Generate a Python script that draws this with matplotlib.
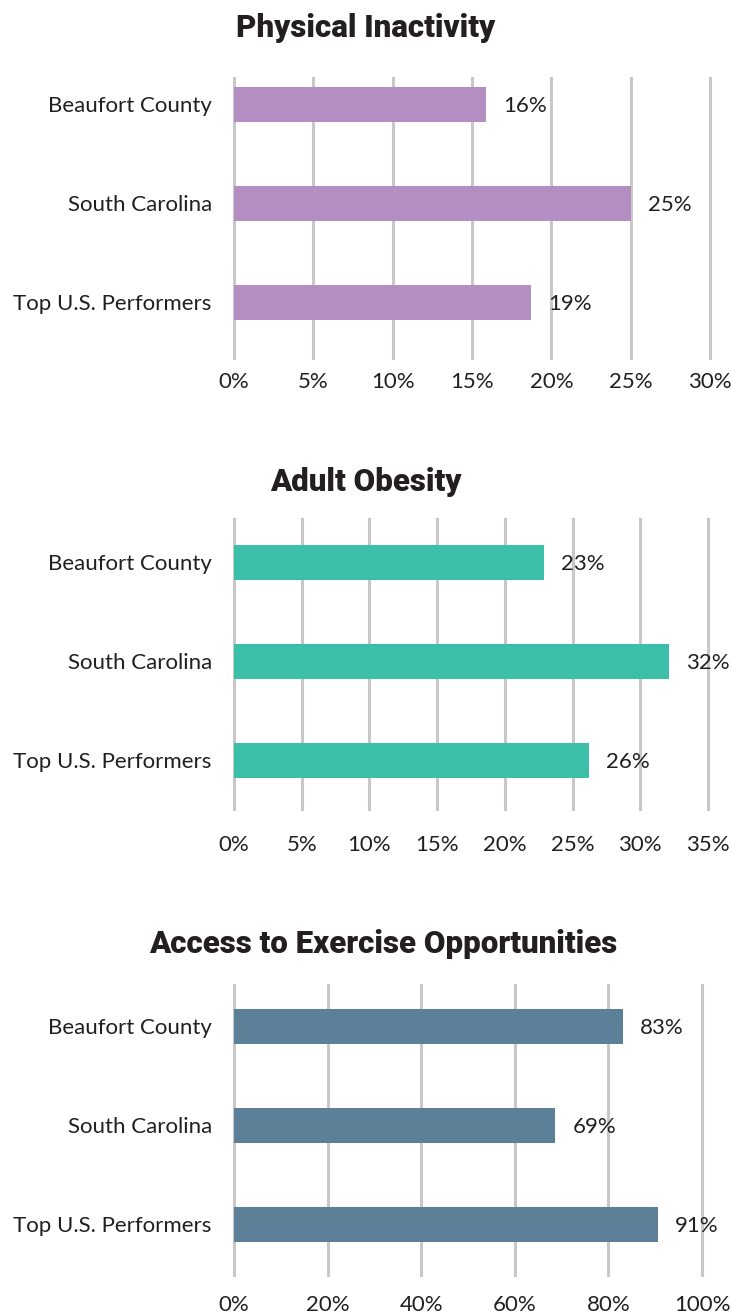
import matplotlib
matplotlib.use("Agg")
import matplotlib.pyplot as plt
from matplotlib.ticker import FuncFormatter

categories = ["Beaufort County", "South Carolina", "Top U.S. Performers"]

titles = ["Physical Inactivity", "Adult Obesity", "Access to Exercise Opportunities"]
inactivity = [15.9, 25.0, 18.7]
inactivity_labels = ["16%", "25%", "19%"]
obesity = [22.9, 32.1, 26.2]
obesity_labels = ["23%", "32%", "26%"]
exercise = [83.1, 68.6, 90.6]
exercise_labels = ["83%", "69%", "91%"]
x_max = [30, 35, 100]
x_step = [5, 5, 20]

series = [inactivity, obesity, exercise]
series_labels = [inactivity_labels, obesity_labels, exercise_labels]
colors = ["#b48ec2", "#3bbfa9", "#5d8099"]

W, H = 731, 1315
fig = plt.figure(figsize=(W / 100, H / 100), dpi=100)

text_color = "#231f20"
label_font = "Lato"
title_font = "Roboto"

# layout in pixels: (axes left, axes right, grid top, grid bottom, center first bar,
#                    center last bar, title y, title x, x tick pad in pt)
layouts = [
    (234, 710, 78, 358, 104, 302, 28, 366, 10),
    (234, 708, 519, 809, 562, 760, 482, 366, 18.5),
    (234, 702, 985, 1275, 1026, 1224, 944, 383, 14.5),
]

for i, (vals, labs, col, xm, st, title) in enumerate(
        zip(series, series_labels, colors, x_max, x_step, titles)):
    l, r, top, bot, c0, c2, ty, tx, xpad = layouts[i]
    ax = fig.add_axes([l / W, 1 - bot / H, (r - l) / W, (bot - top) / H])
    ppu = (c2 - c0) / 2.0
    ax.set_ylim(2 + (bot - c2) / ppu, -(c0 - top) / ppu)
    ax.set_xlim(0, xm)
    ypos = list(range(len(categories)))
    ax.barh(ypos, vals, height=35 / ppu, color=col, zorder=2)
    for y, v, s in zip(ypos, vals, labs):
        ax.annotate(s, (v, y), xytext=(12.5, 0), textcoords="offset points",
                    ha="left", va="center_baseline", fontsize=16, color=text_color,
                    family=label_font, zorder=3)
    ax.set_yticks(ypos)
    ax.set_yticklabels(categories, family=label_font, fontsize=16, color=text_color)
    for t in ax.get_yticklabels():
        t.set_verticalalignment("center_baseline")
    ticks = list(range(0, xm + 1, st))
    ax.set_xticks(ticks)
    ax.xaxis.set_major_formatter(FuncFormatter(lambda v, p: f"{int(v)}%"))
    for t in ax.get_xticklabels():
        t.set_family(label_font)
        t.set_fontsize(16)
        t.set_color(text_color)
    ax.tick_params(axis="both", length=0)
    ax.tick_params(axis="y", pad=16)
    ax.tick_params(axis="x", pad=xpad)
    ax.grid(axis="x", color="#c8c8c8", linewidth=2.2, zorder=0)
    ax.grid(axis="y", visible=False)
    ax.set_axisbelow(True)
    for gl in ax.get_xgridlines():
        gl.set_clip_on(False)
    for sp in ax.spines.values():
        sp.set_visible(False)
    ax.patch.set_visible(False)
    fig.text(tx / W, 1 - ty / H, title, ha="center", va="center",
             fontsize=22.5, fontweight="black", family=title_font, color=text_color)

fig.savefig("out.png", dpi=100, facecolor="white")
